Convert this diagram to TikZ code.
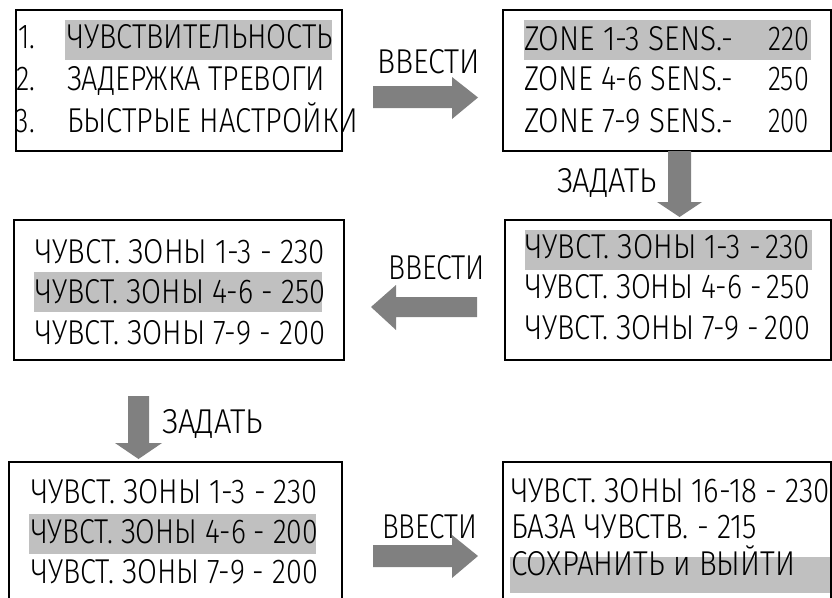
\documentclass[tikz,border=0pt]{standalone}
\usepackage{fontspec}
\IfFontExistsTF{Fira Sans Light}{\setmainfont{Fira Sans Light}}{\setmainfont{Fira Sans}}
\usepackage{graphicx}
\definecolor{hl}{HTML}{C0C0C0}
\definecolor{arr}{HTML}{808080}
\newcommand\fw[2]{\resizebox{#1pt}{\height}{#2}}
\tikzset{
  txt/.style={anchor=base west, inner sep=0pt, outer sep=0pt, font=\fontsize{34.5}{34.5}\selectfont},
  panel/.style={draw=black, line width=1.4pt},
  hlbox/.style={fill=hl},
  blockarrow/.style={fill=arr, draw=none},
}
\begin{document}
\begin{tikzpicture}[x=1pt,y=-1pt]
\useasboundingbox (0,0) rectangle (832,597);
\clip (0,0) rectangle (832,597);
\fill[white] (0,0) rectangle (832,597);

% highlights
\fill[hlbox] (65,20) rectangle (332,60);
\fill[hlbox] (524,20) rectangle (811,60);
\fill[hlbox] (34,272) rectangle (322,312);
\fill[hlbox] (525,230) rectangle (812,270);
\fill[hlbox] (29,514) rectangle (316,554);
\fill[hlbox] (510,557) rectangle (834,593);

% panel 1
\node[txt] (a1n) at (18,48) {\fw{17}{1.}};
\node[txt] (a1) at (67,48) {\fw{266}{ЧУВСТВИТЕЛЬНОСТЬ}};
\node[txt] (a2n) at (16,90) {\fw{19}{2.}};
\node[txt] (a2) at (67,90) {\fw{258}{ЗАДЕРЖКА ТРЕВОГИ}};
\node[txt] (a3n) at (16,132) {\fw{19}{3.}};
\node[txt] (a3) at (67,132) {\fw{291}{БЫСТРЫЕ НАСТРОЙКИ}};
\draw[panel] (16,10) rectangle (342,151);

% panel 2
\node[txt] (b1) at (524,50) {\fw{209}{ZONE 1-3 SENS.-}};
\node[txt] (b1v) at (768,50) {\fw{41}{220}};
\node[txt] (b2) at (524,90) {\fw{209}{ZONE 4-6 SENS.-}};
\node[txt] (b2v) at (768,90) {\fw{41}{250}};
\node[txt] (b3) at (524,132) {\fw{209}{ZONE 7-9 SENS.-}};
\node[txt] (b3v) at (768,132) {\fw{41}{200}};
\draw[panel] (503,10) rectangle (831,151);

% panel 3
\node[txt] (c1) at (35,263) {\fw{290}{ЧУВСТ. ЗОНЫ 1-3 - 230}};
\node[txt] (c2) at (35,303) {\fw{290}{ЧУВСТ. ЗОНЫ 4-6 - 250}};
\node[txt] (c3) at (35,344) {\fw{290}{ЧУВСТ. ЗОНЫ 7-9 - 200}};
\draw[panel] (14,220) rectangle (344,360);

% panel 4
\node[txt] (d1) at (525,258) {\fw{285}{ЧУВСТ. ЗОНЫ 1-3 -\,230}};
\node[txt] (d2) at (525,298) {\fw{285}{ЧУВСТ. ЗОНЫ 4-6 -\,250}};
\node[txt] (d3) at (525,339) {\fw{285}{ЧУВСТ. ЗОНЫ 7-9 -\,200}};
\draw[panel] (505,220) rectangle (831,360);

% panel 5
\node[txt] (e1) at (31,503) {\fw{287}{ЧУВСТ. ЗОНЫ 1-3 - 230}};
\node[txt] (e2) at (31,543) {\fw{287}{ЧУВСТ. ЗОНЫ 4-6 - 200}};
\node[txt] (e3) at (31,583) {\fw{287}{ЧУВСТ. ЗОНЫ 7-9 - 200}};
\draw[panel] (9,462) rectangle (342,600);

% panel 6
\node[txt] (f1) at (511,502) {\fw{319}{ЧУВСТ. ЗОНЫ 16-18 - 230}};
\node[txt] (f2) at (511,538) {\fw{246}{БАЗА ЧУВСТВ. - 215}};
\node[txt] (f3) at (511,575) {\fw{284}{СОХРАНИТЬ и ВЫЙТИ}};
\draw[panel] (503,462) rectangle (831,600);

% labels
\node[txt] (l1) at (377,73) {\fw{103}{ВВЕСТИ}};
\node[txt] (l2) at (557,192) {\fw{100}{ЗАДАТЬ}};
\node[txt] (l3) at (388,279) {\fw{97}{ВВЕСТИ}};
\node[txt] (l4) at (162,433) {\fw{101}{ЗАДАТЬ}};
\node[txt] (l5) at (382,538) {\fw{95}{ВВЕСТИ}};

% block arrows
\fill[blockarrow] (373,86) -- (452,86) -- (452,77) -- (478,97.5) -- (452,119) -- (452,108) -- (373,108) -- cycle;
\fill[blockarrow] (668,151) -- (691,151) -- (691,202) -- (702,202) -- (679.5,217) -- (657,202) -- (668,202) -- cycle;
\fill[blockarrow] (477,297) -- (396,297) -- (396,285) -- (371,307) -- (396,330) -- (396,317) -- (477,317) -- cycle;
\fill[blockarrow] (128,396) -- (149,396) -- (149,443) -- (162,443) -- (138.5,459) -- (115,443) -- (128,443) -- cycle;
\fill[blockarrow] (373,545) -- (452,545) -- (452,535) -- (478,556) -- (452,578) -- (452,567) -- (373,567) -- cycle;
\end{tikzpicture}
\end{document}
